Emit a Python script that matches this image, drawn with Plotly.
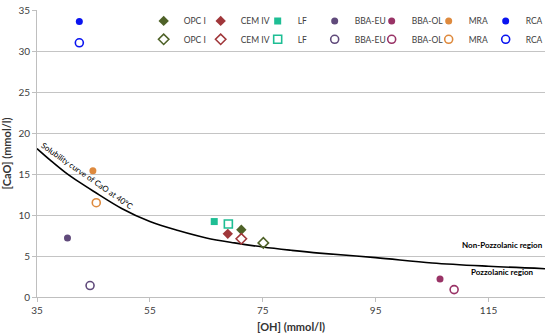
import plotly.graph_objects as go

# ---- data ----
groups = ["OPC I", "CEM IV", "LF", "BBA-EU", "BBA-OL", "MRA", "RCA"]
colors = ["#4F6228", "#A0373A", "#1EBE94", "#604A7B", "#993366", "#DE8A3E", "#0A14F0"]
symbols = ["diamond", "diamond", "square", "circle", "circle", "circle", "circle"]

oh_filled = [71.2, 68.8, 66.4, 40.4, 106.4, 44.9, 42.5]
cao_filled = [8.2, 7.7, 9.2, 7.2, 2.2, 15.4, 33.6]
oh_open = [75.1, 71.2, 68.9, 44.4, 108.9, 45.5, 42.5]
cao_open = [6.6, 7.1, 8.9, 1.4, 0.9, 11.5, 31.0]

curve_oh = [35, 37.5, 40, 42.5, 45, 50, 55, 60, 65, 70, 75, 80, 85, 95, 105, 115, 125]
curve_cao = [18.1, 16.6, 15.2, 14.0, 12.9, 10.8, 9.2, 8.1, 7.2, 6.6, 6.1, 5.7, 5.35, 4.8, 4.15, 3.75, 3.45]

FONT = "Lato"
fig = go.Figure()

fig.add_trace(go.Scatter(x=curve_oh, y=curve_cao, mode="lines", line=dict(color="black", width=1.6, shape="spline"),
                         showlegend=False, hoverinfo="skip"))

sizes = {"diamond": 8, "square": 7, "circle": 7}
open_sizes = {"diamond": 8, "square": 8, "circle": 8}
for g, c, s, x, y in zip(groups, colors, symbols, oh_filled, cao_filled):
    fig.add_trace(go.Scatter(x=[x], y=[y], mode="markers", name=g, legend="legend",
                             marker=dict(symbol=s, size=sizes[s], color=c, line=dict(width=0))))
for g, c, s, x, y in zip(groups, colors, symbols, oh_open, cao_open):
    fig.add_trace(go.Scatter(x=[x], y=[y], mode="markers", name=g, legend="legend2",
                             marker=dict(symbol=s + "-open", size=open_sizes[s], color=c, line=dict(width=1.6, color=c))))

legend_common = dict(orientation="h", entrywidth=12, entrywidthmode="pixels", bgcolor="rgba(0,0,0,0)",
                     font=dict(family=FONT, size=8.5, color="#404040"), xanchor="left", yanchor="middle",
                     itemclick=False, tracegroupgap=0)

fig.update_layout(
    width=550, height=335,
    margin=dict(l=37, r=5, t=10, b=38, autoexpand=False),
    paper_bgcolor="white", plot_bgcolor="white",
    font=dict(family=FONT, size=10, color="#404040"),
    legend=dict(x=0.21, y=0.962, **legend_common),
    legend2=dict(x=0.21, y=0.898, **legend_common),
    xaxis=dict(range=[35, 125], tick0=35, dtick=20, showgrid=False, zeroline=False,
               showline=True, linecolor="#BFBFBF", linewidth=1,
               ticks="outside", ticklen=4, tickcolor="#BFBFBF",
               tickfont=dict(family=FONT, size=10, color="#404040"),
               title=dict(text="<b>[OH] (mmol/l)</b>", font=dict(family=FONT, size=11, color="#333333"), standoff=8)),
    yaxis=dict(range=[0, 35], tick0=0, dtick=5, showgrid=True, gridcolor="#C4C4C4", gridwidth=1, zeroline=False,
               showline=True, linecolor="#BFBFBF", linewidth=1,
               ticks="outside", ticklen=4, tickcolor="#BFBFBF",
               tickfont=dict(family=FONT, size=10, color="#404040"),
               title=dict(text="<b>[CaO] (mmol/l)</b>", font=dict(family=FONT, size=11, color="#333333"), standoff=4)),
)

fig.add_annotation(x=43.9, y=14.7, xref="x", yref="y", text="Solubility curve of CaO at 40ºC", showarrow=False,
                   textangle=35, font=dict(family=FONT, size=8, color="black"))
fig.add_annotation(x=125, y=6.3, xref="x", yref="y", text="<b>Non-Pozzolanic region</b>", showarrow=False,
                   xanchor="right", yanchor="middle", font=dict(family=FONT, size=8, color="black"))
fig.add_annotation(x=123.4, y=3.05, xref="x", yref="y", text="<b>Pozzolanic region</b>", showarrow=False,
                   xanchor="right", yanchor="middle", font=dict(family=FONT, size=8, color="black"))

fig.write_html("out.html", config={"displayModeBar": False},
               post_script="document.body.style.margin='0px';")
